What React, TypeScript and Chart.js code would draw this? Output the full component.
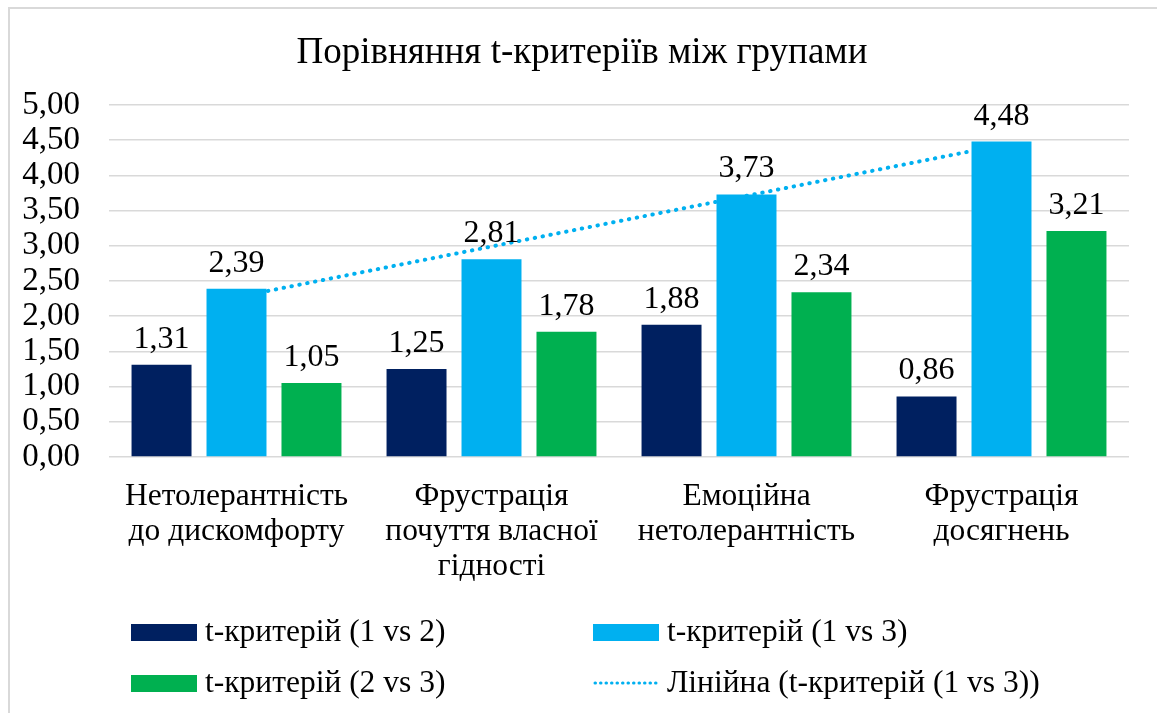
import React, { useEffect, useRef } from "react";
import { Chart, registerables } from "chart.js";

Chart.register(...registerables);

const TITLE = "Порівняння t-критеріїв між групами";
const categories: string[][] = [
  ["Нетолерантність", "до дискомфорту"],
  ["Фрустрація", "почуття власної", "гідності"],
  ["Емоційна", "нетолерантність"],
  ["Фрустрація", "досягнень"],
];
const seriesNames = [
  "t-критерій (1 vs 2)",
  "t-критерій (1 vs 3)",
  "t-критерій (2 vs 3)",
  "Лінійна (t-критерій (1 vs 3))",
];
const values12 = [1.31, 1.25, 1.88, 0.86];
const values13 = [2.39, 2.81, 3.73, 4.48];
const values23 = [1.05, 1.78, 2.34, 3.21];
const trend13 = [2.27, 2.99, 3.71, 4.43];
const yMin = 0;
const yMax = 5;
const yStep = 0.5;

const COLORS = ["#002060", "#00B0F0", "#00B050"];
const FONT = "'Liberation Serif', 'Times New Roman', serif";
const fmt = (v: number) => v.toFixed(2).replace(".", ",");

const frame = {
  id: "frame",
  beforeDraw(chart: any) {
    const ctx = chart.ctx;
    ctx.save();
    ctx.fillStyle = "#ffffff";
    ctx.fillRect(0, 0, chart.width, chart.height);
    ctx.strokeStyle = "#d9d9d9";
    ctx.lineWidth = 2;
    ctx.beginPath();
    ctx.moveTo(9, chart.height);
    ctx.lineTo(9, 8);
    ctx.lineTo(chart.width, 8);
    ctx.stroke();
    ctx.restore();
  },
  afterDraw(chart: any) {
    const ctx = chart.ctx;
    ctx.save();
    ctx.font = `37px ${FONT}`;
    ctx.fillStyle = "#000000";
    ctx.textAlign = "center";
    ctx.textBaseline = "alphabetic";
    ctx.fillText(TITLE, 582, 63);
    ctx.restore();
  },
};

const dataLabels = {
  id: "dataLabels",
  afterDatasetsDraw(chart: any) {
    const ctx = chart.ctx;
    ctx.save();
    ctx.font = `32px ${FONT}`;
    ctx.fillStyle = "#000000";
    ctx.textAlign = "center";
    ctx.textBaseline = "alphabetic";
    chart.data.datasets.forEach((ds: any, i: number) => {
      if (ds.type !== "bar") return;
      const meta = chart.getDatasetMeta(i);
      meta.data.forEach((el: any, j: number) => {
        ctx.fillText(fmt(ds.data[j]), el.x, el.y - 17);
      });
    });
    ctx.restore();
  },
};

const legendPlugin = {
  id: "customLegend",
  afterDraw(chart: any) {
    const ctx = chart.ctx;
    ctx.save();
    ctx.font = `31.5px ${FONT}`;
    ctx.fillStyle = "#000000";
    ctx.textAlign = "left";
    ctx.textBaseline = "middle";
    const cols = [131, 593];
    const rows = [632, 683];
    const items = [
      { col: 0, row: 0, kind: "box", color: COLORS[0], text: seriesNames[0] },
      { col: 1, row: 0, kind: "box", color: COLORS[1], text: seriesNames[1] },
      { col: 0, row: 1, kind: "box", color: COLORS[2], text: seriesNames[2] },
      { col: 1, row: 1, kind: "line", color: COLORS[1], text: seriesNames[3] },
    ];
    items.forEach((it) => {
      const x = cols[it.col];
      const y = rows[it.row];
      if (it.kind === "box") {
        ctx.fillStyle = it.color;
        ctx.fillRect(x, y - 8, 66, 17);
      } else {
        ctx.strokeStyle = it.color;
        ctx.lineWidth = 3;
        ctx.lineCap = "round";
        ctx.setLineDash([0.5, 5]);
        ctx.beginPath();
        ctx.moveTo(x + 2, y);
        ctx.lineTo(x + 66, y);
        ctx.stroke();
        ctx.setLineDash([]);
      }
      ctx.fillStyle = "#000000";
      ctx.fillText(it.text, x + 74, y + 1);
    });
    ctx.restore();
  },
};

export default function App() {
  const ref = useRef<HTMLCanvasElement | null>(null);
  useEffect(() => {
    if (!ref.current) return;
    const chart = new Chart(ref.current, {
      type: "bar",
      data: {
        labels: categories,
        datasets: [
          {
            type: "bar",
            label: seriesNames[0],
            data: values12,
            backgroundColor: COLORS[0],
            categoryPercentage: 0.882,
            barPercentage: 0.8,
            order: 1,
          },
          {
            type: "bar",
            label: seriesNames[1],
            data: values13,
            backgroundColor: COLORS[1],
            categoryPercentage: 0.882,
            barPercentage: 0.8,
            order: 1,
          },
          {
            type: "bar",
            label: seriesNames[2],
            data: values23,
            backgroundColor: COLORS[2],
            categoryPercentage: 0.882,
            barPercentage: 0.8,
            order: 1,
          },
          {
            type: "line",
            label: seriesNames[3],
            data: trend13,
            borderColor: COLORS[1],
            borderWidth: 4,
            borderDash: [0.5, 7.5],
            borderCapStyle: "round",
            pointRadius: 0,
            fill: false,
            order: 10,
          } as any,
        ],
      },
      options: {
        responsive: false,
        animation: false,
        layout: { padding: { left: 0, right: 28, top: 105, bottom: 126 } },
        plugins: {
          legend: { display: false },
          tooltip: { enabled: false },
          title: { display: false },
        },
        scales: {
          x: {
            offset: true,
            grid: { display: false, drawTicks: false },
            border: { display: false },
            ticks: {
              color: "#000000",
              font: { family: FONT, size: 31.5, lineHeight: 1.11 },
              padding: 22,
              autoSkip: false,
              maxRotation: 0,
            },
            afterFit: (s: any) => {
              s.height = 130;
            },
          },
          y: {
            min: yMin,
            max: yMax,
            grid: { color: "#d9d9d9", lineWidth: 1.5, drawTicks: false },
            border: { display: false },
            ticks: {
              stepSize: yStep,
              autoSkip: false,
              color: "#000000",
              font: { family: FONT, size: 33 },
              padding: 29,
              callback: (v: any) => fmt(Number(v)),
            },
            afterFit: (s: any) => {
              s.width = 109;
            },
          },
        },
      },
      plugins: [frame, dataLabels, legendPlugin],
    });
    return () => chart.destroy();
  }, []);
  return (
    <div style={{ position: "absolute", left: 0, top: 0, width: 1157, height: 713 }}>
      <canvas ref={ref} width={1157} height={713} style={{ display: "block" }} />
    </div>
  );
}
